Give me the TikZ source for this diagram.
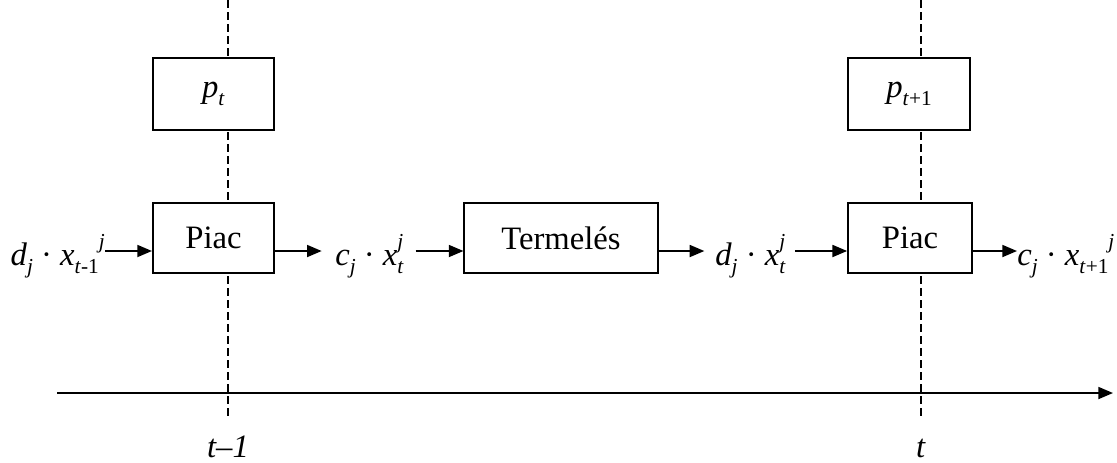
\documentclass[tikz,border=0pt]{standalone}
\usepackage{fontspec}
\setmainfont{Liberation Serif}
\usetikzlibrary{arrows.meta}
\newcommand\sbs[1]{\raisebox{-0.25em}{\fontsize{16}{16}\selectfont #1}}
\newcommand\sps[1]{\raisebox{0.5em}{\fontsize{16}{16}\selectfont #1}}
\newcommand\both[2]{\rlap{\sbs{#1}}\sps{#2}}
\begin{document}
\begin{tikzpicture}[x=0.75pt,y=-0.75pt,
  box/.style={draw,line width=1.3pt,fill=white,inner sep=0pt,font=\fontsize{24.5}{24.5}\selectfont},
  lbl/.style={inner sep=0pt,font=\fontsize{24.5}{24.5}\selectfont},
  arr/.style={line width=1.3pt,-{Triangle[length=11pt,width=9pt]}},
  timeline/.style={line width=1.3pt,dash pattern=on 6pt off 3pt}]
\useasboundingbox (0,0) rectangle (1117,462);
% dashed time lines
\coordinate (d1t) at (228,0); \coordinate (d1b) at (228,418);
\coordinate (d2t) at (921,0); \coordinate (d2b) at (921,418);
\draw[timeline] (d1t) -- (d1b);
\draw[timeline] (d2t) -- (d2b);
% boxes
\node[box,minimum width=91pt,minimum height=54pt] (pt) at (213.5,94) {\textit{p}\sbs{\textit{t}}};
\node[box,minimum width=91.5pt,minimum height=54pt] (pt1) at (909,94) {\textit{p}\sbs{\textit{t}+1}};
\node[box,minimum width=91pt,minimum height=52.5pt] (piac1) at (213.5,238) {Piac};
\node[box,minimum width=145pt,minimum height=52.5pt] (term) at (561,238) {Termelés};
\node[box,minimum width=93pt,minimum height=52.5pt] (piac2) at (910,238) {Piac};
% formulas
\node[lbl,anchor=base east] (f1) at (105,265) {\textit{d}\sbs{\textit{j}} · \textit{x}\sbs{\textit{t}-1}\sps{\textit{j}}};
\node[lbl,anchor=base west] (f2) at (335,265) {\textit{c}\sbs{\textit{j}} · \textit{x}\both{\textit{t}}{\textit{j}}};
\node[lbl,anchor=base west] (f3) at (715,265) {\textit{d}\sbs{\textit{j}} · \textit{x}\both{\textit{t}}{\textit{j}}};
\node[lbl,anchor=base west] (f4) at (1017,265) {\textit{c}\sbs{\textit{j}} · \textit{x}\sbs{\textit{t}+1}\sps{\textit{j}}};
% arrows
\draw[arr] (f1.east |- 0,251) -- (piac1.west |- 0,251);
\draw[arr] (piac1.east |- 0,251) -- ([xshift=-10pt]f2.west |- 0,251);
\draw[arr] ([xshift=9pt]f2.east |- 0,251) -- (term.west |- 0,251);
\draw[arr] (term.east |- 0,251) -- ([xshift=-8pt]f3.west |- 0,251);
\draw[arr] ([xshift=7pt]f3.east |- 0,251) -- (piac2.west |- 0,251);
\draw[arr] (piac2.east |- 0,251) -- (f4.west |- 0,251);
% time axis
\coordinate (ax0) at (57,393); \coordinate (ax1) at (1113,393);
\draw[arr] (ax0) -- (ax1);
\node[lbl,anchor=base] (l1) at (228,457) {\textit{t–1}};
\node[lbl,anchor=base] (l2) at (921,457) {\textit{t}};
\end{tikzpicture}
\end{document}
